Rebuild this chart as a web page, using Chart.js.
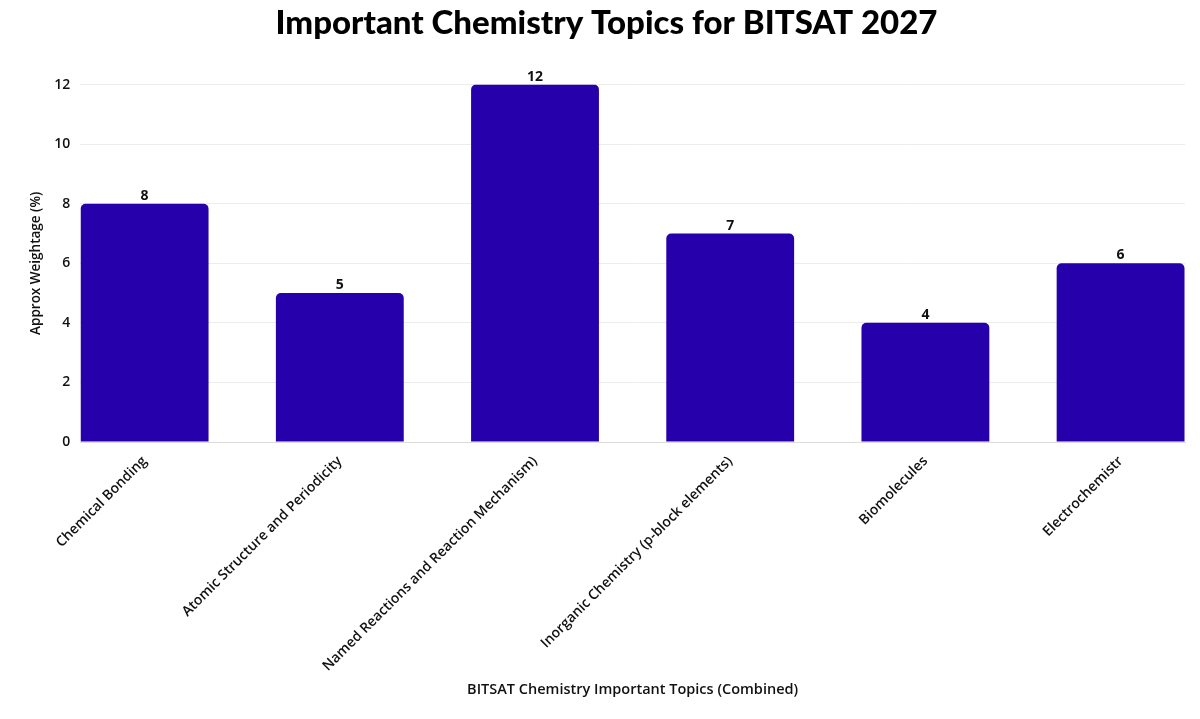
<!DOCTYPE html>
<html lang="en">
<head>
    <meta charset="UTF-8">
    <title>Important Chemistry Topics for BITSAT 2027</title>
    <script src="https://cdn.jsdelivr.net/npm/chart.js"></script>
    <style>
        html, body { margin: 0; padding: 0; background: #fff; }
        .chart-container { width: 1200px; height: 719px; }
    </style>
</head>
<body>
    <div class="chart-container">
        <canvas id="topicsChart"></canvas>
    </div>

    <script>
        // Topics on the x axis
        const topics = [
            "Chemical Bonding",
            "Atomic Structure and Periodicity",
            "Named Reactions and Reaction Mechanism)",
            "Inorganic Chemistry (p-block elements)",
            "Biomolecules",
            "Electrochemistr"
        ];
        // Approx weightage (%)
        const weightage = [8, 5, 12, 7, 4, 6];
        const yTicks = [0, 2, 4, 6, 8, 10, 12];

        const barColor = '#2600AB';

        // small plugin to write the value above each bar
        const valueLabels = {
            id: 'valueLabels',
            afterDatasetsDraw(chart) {
                const ctx = chart.ctx;
                const meta = chart.getDatasetMeta(0);
                ctx.save();
                ctx.font = 'bold 14px "Open Sans"';
                ctx.fillStyle = '#111';
                ctx.textAlign = 'center';
                ctx.textBaseline = 'bottom';
                meta.data.forEach((bar, i) => {
                    ctx.fillText(weightage[i], bar.x, bar.y - 1);
                });
                ctx.restore();
            }
        };

        const ctx = document.getElementById('topicsChart').getContext('2d');
        new Chart(ctx, {
            type: 'bar',
            data: {
                datasets: [{
                    label: 'Approx Weightage (%)',
                    data: weightage.map((v, i) => ({ x: i, y: v })),
                    backgroundColor: barColor,
                    borderRadius: { topLeft: 5, topRight: 5 },
                    borderSkipped: 'bottom',
                    categoryPercentage: 1,
                    barPercentage: 0.655
                }]
            },
            options: {
                responsive: true,
                maintainAspectRatio: false,
                animation: false,
                layout: { padding: { top: 4, right: 15, left: 28, bottom: 16 } },
                plugins: {
                    legend: { display: false },
                    tooltip: { enabled: false },
                    title: {
                        display: true,
                        text: 'Important Chemistry Topics for BITSAT 2027',
                        color: '#000',
                        font: { family: 'Lato', size: 33, weight: '900' },
                        padding: { top: 0, bottom: 41 }
                    }
                },
                scales: {
                    x: {
                        type: 'linear',
                        offset: false,
                        min: -0.33,
                        max: 5.33,
                        afterBuildTicks(scale) {
                            scale.ticks = topics.map((_, i) => ({ value: i }));
                        },
                        grid: { display: false },
                        border: { color: '#dcdcdc' },
                        ticks: {
                            autoSkip: false,
                            maxRotation: 45,
                            minRotation: 45,
                            color: '#111',
                            font: { family: 'Open Sans', size: 14, weight: '600' },
                            callback: (v) => topics[v]
                        },
                        title: {
                            display: true,
                            text: 'BITSAT Chemistry Important Topics (Combined)',
                            color: '#111',
                            font: { family: 'Open Sans', size: 14.5, weight: '600' },
                            padding: { top: 4 }
                        }
                    },
                    y: {
                        min: 0,
                        max: 12,
                        afterBuildTicks(scale) {
                            scale.ticks = yTicks.map(v => ({ value: v }));
                        },
                        grid: { color: '#ececec', drawTicks: false },
                        border: { display: false },
                        ticks: {
                            padding: 10,
                            color: '#111',
                            font: { family: 'Open Sans', size: 14, weight: '600' }
                        },
                        title: {
                            display: true,
                            text: 'Approx Weightage (%)',
                            color: '#111',
                            font: { family: 'Open Sans', size: 13.5, weight: '600' },
                            padding: { top: 0, bottom: 0 }
                        }
                    }
                }
            },
            plugins: [valueLabels]
        });
    </script>
</body>
</html>
